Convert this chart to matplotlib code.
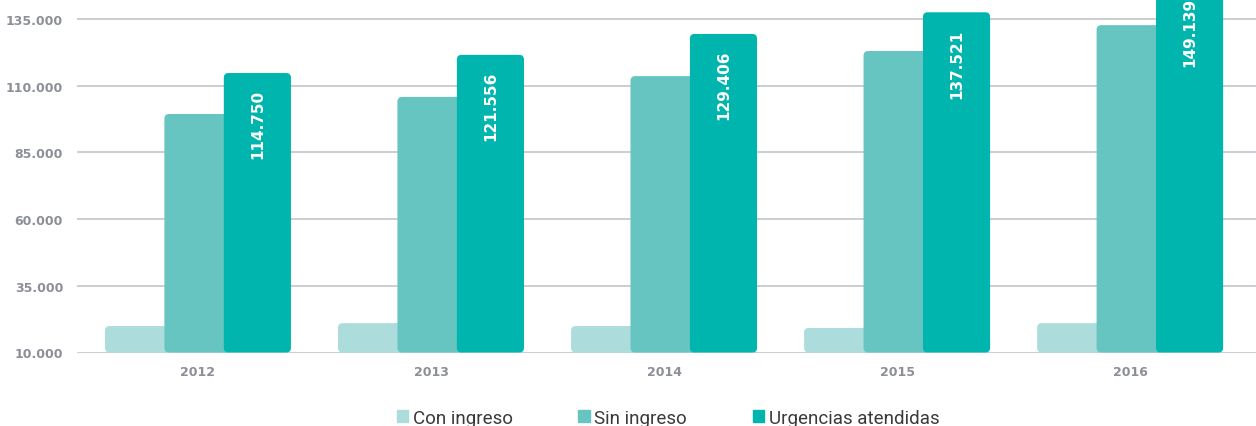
import matplotlib
matplotlib.use("Agg")
import matplotlib.pyplot as plt
from matplotlib.patches import FancyBboxPatch, Patch

# data
years = ["2012", "2013", "2014", "2015", "2016"]
con_ingreso = [19900, 21000, 19900, 19200, 21000]
sin_ingreso = [99400, 105800, 113600, 123000, 132700]
urgencias = [114750, 121556, 129406, 137521, 149139]
urg_labels = ["114.750", "121.556", "129.406", "137.521", "149.139"]
y_ticks = [10000, 35000, 60000, 85000, 110000, 135000]
y_tick_labels = ["10.000", "35.000", "60.000", "85.000", "110.000", "135.000"]

c_con = "#acdcdb"
c_sin = "#66c5c1"
c_urg = "#00b5ad"
grey = "#8c8e98"

fig = plt.figure(figsize=(12.56, 4.27), dpi=100)
ax = fig.add_axes([77 / 1256, 73.5 / 427, 1179 / 1256, 353.5 / 427])

ymin, ymax = 10000, 142500
ax.set_ylim(ymin, ymax)
ax.set_xlim(-0.519, 4.54)

x = list(range(len(years)))
off = 0.255
w = 0.288

# aspect so that the corner rounding is circular in pixels
px_x = 4.54 + 0.519
px_y = ymax - ymin
aspect = (px_y / 353.5) / (px_x / 1179)


def rounded_bars(xs, vals, color, z):
    bars = ax.bar(xs, [v - ymin for v in vals], width=w, bottom=ymin, color=color, zorder=z)
    for b in bars:
        b.set_visible(False)
        p = FancyBboxPatch((b.get_x(), b.get_y()), b.get_width(), b.get_height(),
                           boxstyle="round,pad=0,rounding_size=0.02",
                           mutation_aspect=aspect, facecolor=color,
                           edgecolor="none", zorder=z)
        ax.add_patch(p)


rounded_bars([i - off for i in x], con_ingreso, c_con, 3)
rounded_bars(x, sin_ingreso, c_sin, 4)
rounded_bars([i + off for i in x], urgencias, c_urg, 5)

# value labels inside the tall bars
for i, v in enumerate(urgencias):
    ax.annotate(urg_labels[i], xy=(i + off, v), xytext=(0, -16), textcoords="offset pixels",
                rotation=90, ha="center", va="top", color="white", fontsize=11,
                fontweight="bold", zorder=6, annotation_clip=False)

ax.set_yticks(y_ticks)
ax.set_yticklabels(y_tick_labels)
ax.set_xticks(x)
ax.set_xticklabels(years)
ax.tick_params(axis="both", length=0, colors=grey)
for lab in ax.get_yticklabels():
    lab.set_fontsize(9)
    lab.set_fontweight("bold")
for lab in ax.get_xticklabels():
    lab.set_fontsize(9)
    lab.set_fontweight("bold")
ax.tick_params(axis="y", pad=10)
ax.tick_params(axis="x", pad=9)

ax.grid(axis="y", color="#c8c9d0", linewidth=1.3, zorder=0)
ax.set_axisbelow(True)
for s in ax.spines.values():
    s.set_visible(False)

handles = [Patch(color=c_con, label="Con ingreso"),
           Patch(color=c_sin, label="Sin ingreso"),
           Patch(color=c_urg, label="Urgencias atendidas")]
fig.legend(handles=handles, loc="center", bbox_to_anchor=(668 / 1256, 8 / 427), ncol=3,
           frameon=False, handlelength=0.6, handleheight=0.6, handletextpad=0.25,
           columnspacing=3.5, labelcolor="#3a3a3a",
           prop={"family": ["Roboto", "DejaVu Sans"], "size": 13.5})

fig.savefig("out.png", dpi=100)
